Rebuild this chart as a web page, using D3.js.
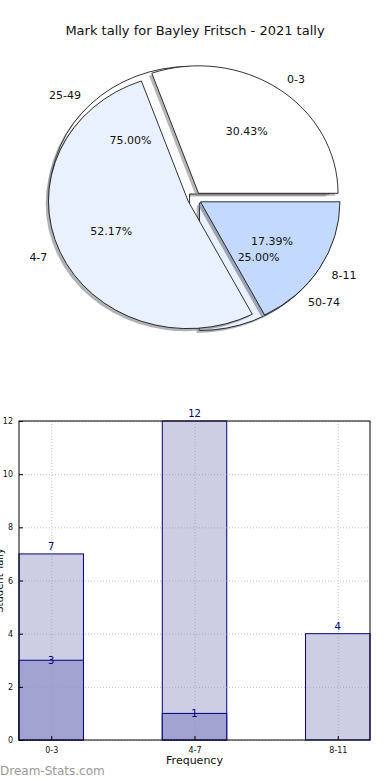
<!DOCTYPE html>
<html>
<head>
<meta charset="utf-8">
<script src="https://cdn.jsdelivr.net/npm/d3@7"></script>
<style>
  body { margin: 0; background: #fff; }
  svg { display: block; font-family: "DejaVu Sans", sans-serif; }
</style>
</head>
<body>
<svg id="chart" width="390" height="780"></svg>
<script>
// data
const title = "Mark tally for Bayley Fritsch - 2021 tally";
const pieLabels = ["0-3", "4-7", "8-11"];
const pieValues = [7, 12, 4];
const pieColors = ["#ffffff", "#eaf1fe", "#c4d9fe"];
const pie2Labels = ["25-49", "50-74"];
const pie2Values = [3, 1];
const pie2Colors = ["#ffffff", "#eaf1fe"];

const categories = ["0-3", "4-7", "8-11"];
const tallyValues = [7, 12, 4];
const subValues = [3, 1, 0];
const yTicks = [0, 2, 4, 6, 8, 10, 12];

const svg = d3.select("#chart");

//TITLE
svg.append("text")
  .attr("x", 195)
  .attr("y", 35)
  .attr("text-anchor", "middle")
  .style("font-size", "13px")
  .style("fill", "#111")
  .text(title);

//PIE SETUP
const cx = 194.5, cy = 198.5, rx = 139.5, ry = 127.5;
const explode = 0.05;
const pieGen = d3.pie().sort(null)
  .startAngle(Math.PI / 2)
  .endAngle(Math.PI / 2 - 2 * Math.PI);
const arc = d3.arc().innerRadius(0).outerRadius(1);

const pieLayer = svg.append("g");
const textLayer = svg.append("g");

function drawPie(values, labels, colors) {
  const arcs = pieGen(values);
  const total = d3.sum(values);
  arcs.forEach(function(a, i) {
    const mid = (a.startAngle + a.endAngle) / 2;
    const ox = explode * Math.sin(mid);
    const oy = -explode * Math.cos(mid);
    // shadow
    pieLayer.append("path")
      .attr("transform", "translate(" + cx + "," + cy + ") scale(" + rx + "," + ry + ") translate(" + (ox - 0.02) + "," + (oy + 0.02) + ")")
      .attr("d", arc(a))
      .attr("fill", d3.color(colors[i]).darker(1.8))
      .attr("fill-opacity", 0.6)
      .attr("stroke", "none");
    pieLayer.append("path")
      .attr("transform", "translate(" + cx + "," + cy + ") scale(" + rx + "," + ry + ") translate(" + ox + "," + oy + ")")
      .attr("d", arc(a))
      .attr("fill", colors[i])
      .attr("stroke", "#000")
      .attr("stroke-width", 0.8)
      .attr("vector-effect", "non-scaling-stroke");

    // labels
    const sx = Math.sin(mid), sy = -Math.cos(mid);
    const lx = cx + (ox + 1.1 * sx) * rx;
    const ly = cy + (oy + 1.1 * sy) * ry;
    textLayer.append("text")
      .attr("x", lx)
      .attr("y", ly)
      .attr("dy", "0.35em")
      .attr("text-anchor", sx < 0 ? "end" : "start")
      .style("font-size", "11px")
      .style("fill", "#111")
      .text(labels[i]);
    const px = cx + (ox + 0.6 * sx) * rx;
    const py = cy + (oy + 0.6 * sy) * ry;
    textLayer.append("text")
      .attr("x", px)
      .attr("y", py)
      .attr("dy", "0.35em")
      .attr("text-anchor", "middle")
      .style("font-size", "11px")
      .style("fill", "#111")
      .text((values[i] / total * 100).toFixed(2) + "%");
  });
}

drawPie(pie2Values, pie2Labels, pie2Colors);
drawPie(pieValues, pieLabels, pieColors);

//BAR CHART
const mLeft = 19, mRight = 370, mTop = 421, mBottom = 740;
const x = d3.scaleLinear().domain([-0.225, 2.225]).range([mLeft, mRight]);
const y = d3.scaleLinear().domain([0, 12]).range([mBottom, mTop]);
const bw = x(0.45) - x(0);
const navy = "#000080";

const g = svg.append("g");

g.selectAll(".bar1")
  .data(tallyValues)
  .enter()
  .append("rect")
  .attr("x", (d, i) => x(i) - bw / 2)
  .attr("y", d => y(d))
  .attr("width", bw)
  .attr("height", d => y(0) - y(d))
  .attr("fill", "#cdcde4")
  .attr("stroke", navy)
  .attr("stroke-width", 1);

g.selectAll(".bar2")
  .data(subValues)
  .enter()
  .append("rect")
  .attr("x", (d, i) => x(i) - bw / 2)
  .attr("y", d => y(d))
  .attr("width", bw)
  .attr("height", d => y(0) - y(d))
  .attr("fill", "#a3a3d1")
  .attr("stroke", d => d > 0 ? navy : "none")
  .attr("stroke-width", 1);

//GRIDLINES
g.append("g")
  .attr("transform", "translate(" + mLeft + ",0)")
  .call(d3.axisLeft(y).tickValues(yTicks).tickSize(-(mRight - mLeft)).tickFormat(""))
  .call(s => s.select(".domain").remove())
  .selectAll("line")
  .attr("stroke", "#999")
  .attr("stroke-opacity", 0.6)
  .attr("stroke-dasharray", "1,2");
g.append("g")
  .attr("transform", "translate(0," + mBottom + ")")
  .call(d3.axisBottom(x).tickValues([0, 1, 2]).tickSize(-(mBottom - mTop)).tickFormat(""))
  .call(s => s.select(".domain").remove())
  .selectAll("line")
  .attr("stroke", "#999")
  .attr("stroke-opacity", 0.6)
  .attr("stroke-dasharray", "1,2");

//FRAME AND TICKS
g.append("rect")
  .attr("x", mLeft)
  .attr("y", mTop)
  .attr("width", mRight - mLeft)
  .attr("height", mBottom - mTop)
  .attr("fill", "none")
  .attr("stroke", "#000")
  .attr("stroke-width", 1);

const yAxis = g.append("g")
  .attr("transform", "translate(" + mLeft + ",0)")
  .call(d3.axisLeft(y).tickValues(yTicks).tickSize(-4).tickPadding(6));
yAxis.select(".domain").remove();
yAxis.selectAll("text").style("font-size", "8px").style("fill", "#111").attr("font-family", "DejaVu Sans");

const xAxis = g.append("g")
  .attr("transform", "translate(0," + mBottom + ")")
  .call(d3.axisBottom(x).tickValues([0, 1, 2]).tickSize(-4).tickPadding(7)
    .tickFormat((d, i) => categories[i]));
xAxis.select(".domain").remove();
xAxis.selectAll("text").style("font-size", "8px").style("fill", "#111").attr("font-family", "DejaVu Sans");

//VALUE LABELS
g.selectAll(".lab1")
  .data(tallyValues)
  .enter()
  .append("text")
  .attr("x", (d, i) => x(i))
  .attr("y", d => y(d) - 4)
  .attr("text-anchor", "middle")
  .style("font-size", "10px")
  .style("fill", navy)
  .text(d => d);
g.selectAll(".lab2")
  .data(subValues.filter(d => d > 0))
  .enter()
  .append("text")
  .attr("x", (d, i) => x(subValues.indexOf(d)))
  .attr("y", d => y(d) + 4)
  .attr("text-anchor", "middle")
  .style("font-size", "10px")
  .style("fill", navy)
  .text(d => d);

//AXIS LABELS
g.append("text")
  .attr("x", (mLeft + mRight) / 2)
  .attr("y", 764)
  .attr("text-anchor", "middle")
  .style("font-size", "11px")
  .style("fill", "#111")
  .text("Frequency");
g.append("text")
  .attr("transform", "translate(3," + ((mTop + mBottom) / 2) + ") rotate(-90)")
  .attr("text-anchor", "middle")
  .style("font-size", "10px")
  .style("fill", "#111")
  .text("Student Tally");

//WATERMARK
svg.append("text")
  .attr("x", 0)
  .attr("y", 775)
  .style("font-size", "12px")
  .style("fill", "#999")
  .text("Dream-Stats.com");
</script>
</body>
</html>
